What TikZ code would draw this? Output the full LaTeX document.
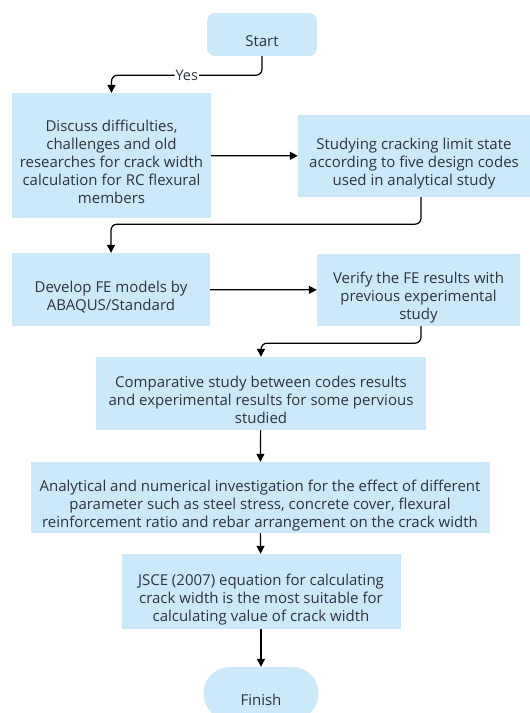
\documentclass[tikz,border=0pt]{standalone}
\usepackage{fontspec}
\setmainfont{Open Sans}
\usetikzlibrary{arrows.meta}
\definecolor{boxblue}{RGB}{204,233,250}
\definecolor{inkgray}{RGB}{44,52,60}
\newcommand{\padtop}{\rule{0pt}{27pt}}
\newcommand{\padbot}{\rule[-4pt]{0pt}{4pt}}

\begin{document}
\begin{tikzpicture}
	[x=1pt, y=-1pt,
	box/.style={rectangle, fill=boxblue, text=inkgray, align=center, inner sep=0pt, font=\fontsize{15}{18}\selectfont},
	term/.style={box, rounded corners=8pt},
	link/.style={draw=black, line width=1.2pt, rounded corners=6pt, -{Triangle[length=8pt,width=8pt]}},
	yes/.style={fill=white, text=inkgray, inner sep=1pt, font=\fontsize{14.5}{16}\selectfont}]
	\useasboundingbox (0,0) rectangle (530,713);
	\clip (0,0) rectangle (530,713);
	\node[term, minimum width=110, minimum height=43] (start) at (262,34.5) {\padtop Start\padbot};
	\node[box, minimum width=199, minimum height=125] (disc) at (111.5,155.5) {\padtop Discuss difficulties,\\ challenges and old\\ researches for crack width\\ calculation for RC flexural\\ members\padbot};
	\node[box, minimum width=232, minimum height=82] (study) at (414,156) {\padtop Studying cracking limit state\\ according to five design codes\\ used in analytical study\padbot};
	\node[box, minimum width=198, minimum height=73] (dev) at (111,289.5) {\padtop Develop FE models by\\ ABAQUS/Standard\padbot};
	\node[box, minimum width=203, minimum height=72] (verify) at (418.5,290) {\padtop Verify the FE results with\\ previous experimental\\ study\padbot};
	\node[box, minimum width=330, minimum height=73] (comp) at (261,393.5) {\padtop Comparative study between codes results\\ and experimental results for some pervious\\ studied\padbot};
	\node[box, minimum width=459, minimum height=71] (anal) at (260,497.5) {\padtop Analytical and numerical investigation for the effect of different\\ parameter such as steel stress, concrete cover, flexural\\ reinforcement ratio and rebar arrangement on the crack width\padbot};
	\node[box, minimum width=279, minimum height=75] (jsce) at (261,591.5) {\padtop JSCE (2007) equation for calculating\\ crack width is the most suitable for\\ calculating value of crack width\padbot};
	\node[term, rounded corners=26pt, minimum width=115, minimum height=53] (finish) at (261,693.5) {\padtop Finish\padbot};
	\draw[link] (start.south) -- ++(0,19) -| node[pos=0.25, yes] (yeslabel) {Yes} (disc.north);
	\path (disc) edge[link] (study);
	\draw[link] ([xshift=7pt]study.south) -- ++(0,27) -| (dev.north);
	\path (dev) edge[link] (verify);
	\draw[link] ([xshift=2.5pt]verify.south) -- ++(0,17) -| (comp.north);
	\path (comp) edge[link] (anal);
	\path (anal) edge[link] (jsce);
	\path (jsce) edge[link] (finish);
\end{tikzpicture}
\end{document}
